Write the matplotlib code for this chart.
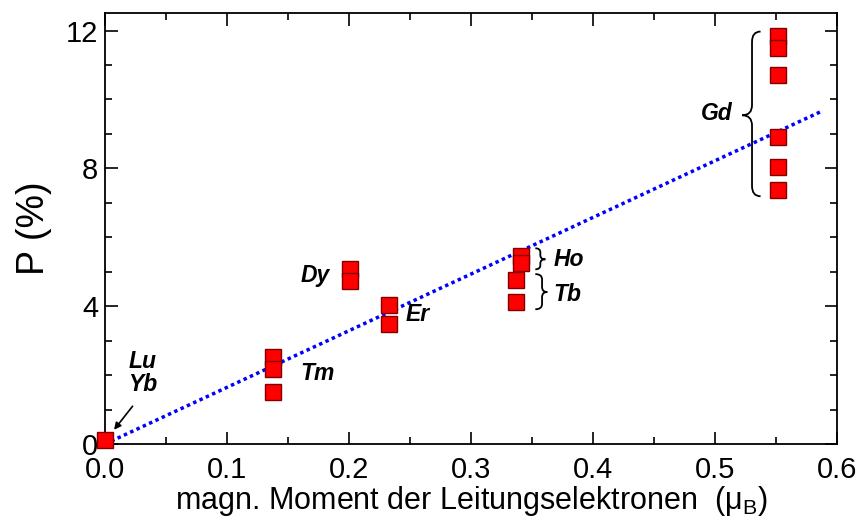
import numpy as np
import matplotlib
matplotlib.use("Agg")
import matplotlib.pyplot as plt
from matplotlib.path import Path
from matplotlib.patches import PathPatch

plt.rcParams['font.family'] = ['Liberation Sans', 'DejaVu Sans']
plt.rcParams['mathtext.fontset'] = 'custom'
plt.rcParams['mathtext.rm'] = 'Liberation Sans'
plt.rcParams['mathtext.it'] = 'Liberation Sans:italic'

# Daten
elements = ['Lu/Yb', 'Tm', 'Dy', 'Er', 'Tb', 'Ho', 'Gd']
moment = [0.0, 0.138, 0.201, 0.233, 0.337, 0.341, 0.551]
P_values = [
    [0.12],
    [2.52, 2.17, 1.51],
    [5.08, 4.72],
    [4.03, 3.48],
    [4.75, 4.12],
    [5.45, 5.25],
    [11.83, 11.48, 10.72, 8.9, 8.03, 7.36],
]
fit_x = [0.0, 0.588]
fit_slope = 16.45


def brace(ax, x_end, x_spine, x_tip, y0, y1, ym, r):
    verts = [(x_end, y1), (x_spine, y1), (x_spine, y1 - r),
             (x_spine, ym + r), (x_spine, ym), (x_tip, ym),
             (x_spine, ym), (x_spine, ym - r),
             (x_spine, y0 + r), (x_spine, y0), (x_end, y0)]
    codes = [Path.MOVETO, Path.CURVE3, Path.CURVE3,
             Path.LINETO, Path.CURVE3, Path.CURVE3,
             Path.CURVE3, Path.CURVE3,
             Path.LINETO, Path.CURVE3, Path.CURVE3]
    ax.add_patch(PathPatch(Path(verts, codes), fill=False, lw=1.3, color='black'))


fig = plt.figure(figsize=(8.6, 5.21), dpi=100)
ax = fig.add_axes([0.1221, 0.1478, 0.8517, 0.8267])

fx = np.array(fit_x)
ax.plot(fx, fit_slope * fx, color='#0000ff', lw=2.5, linestyle=(0, (1, 1)), zorder=2)

for x, ys in zip(moment, P_values):
    ax.plot([x] * len(ys), ys, 's', ms=11.5, mfc='#ff0000', mec='#800000', mew=1,
            clip_on=False, zorder=3)

lab = dict(fontsize=16.5, fontweight='bold', fontstyle='italic')
ax.text(0.031, 2.4, 'Lu', ha='center', va='center', **lab)
ax.text(0.031, 1.72, 'Yb', ha='center', va='center', **lab)
ax.annotate('', xy=(0.006, 0.35), xytext=(0.024, 1.16),
            arrowprops=dict(arrowstyle='-|>', color='black', lw=1.2, mutation_scale=10))
ax.text(0.172, 4.9, 'Dy', ha='center', va='center', **lab)
ax.text(0.256, 3.77, 'Er', ha='center', va='center', **lab)
ax.text(0.174, 2.05, 'Tm', ha='center', va='center', **lab)
ax.text(0.380, 5.36, 'Ho', ha='center', va='center', **lab)
ax.text(0.379, 4.33, 'Tb', ha='center', va='center', **lab)
ax.text(0.501, 9.6, 'Gd', ha='center', va='center', **lab)

brace(ax, 0.537, 0.530, 0.522, 7.19, 11.97, 9.54, 0.3)
brace(ax, 0.3525, 0.3566, 0.3607, 5.07, 5.68, 5.36, 0.12)
brace(ax, 0.3525, 0.358, 0.3623, 3.91, 4.93, 4.41, 0.15)

ax.set_xlim(0, 0.6)
ax.set_ylim(0, 12.5)
ax.set_xticks(np.arange(0, 0.61, 0.1))
ax.set_xticks(np.arange(0.05, 0.6, 0.1), minor=True)
ax.set_yticks([0, 4, 8, 12])
ax.set_yticks([1, 2, 3, 5, 6, 7, 9, 10, 11], minor=True)
ax.set_xticklabels(['0.0', '0.1', '0.2', '0.3', '0.4', '0.5', '0.6'])
ax.tick_params(which='both', direction='in', top=True, right=True, width=1.2,
               labelsize=21)
ax.tick_params(axis='x', pad=9)
ax.tick_params(axis='y', pad=5)
ax.tick_params(which='major', length=9)
ax.tick_params(which='minor', length=5)
for s in ax.spines.values():
    s.set_linewidth(1.3)

ax.set_ylabel('P (%)', fontsize=27, labelpad=10)
ax.set_xlabel('magn. Moment der Leitungselektronen  (μ$_\\mathregular{B}$)', fontsize=22, labelpad=0)

fig.savefig('out.png', dpi=100)
